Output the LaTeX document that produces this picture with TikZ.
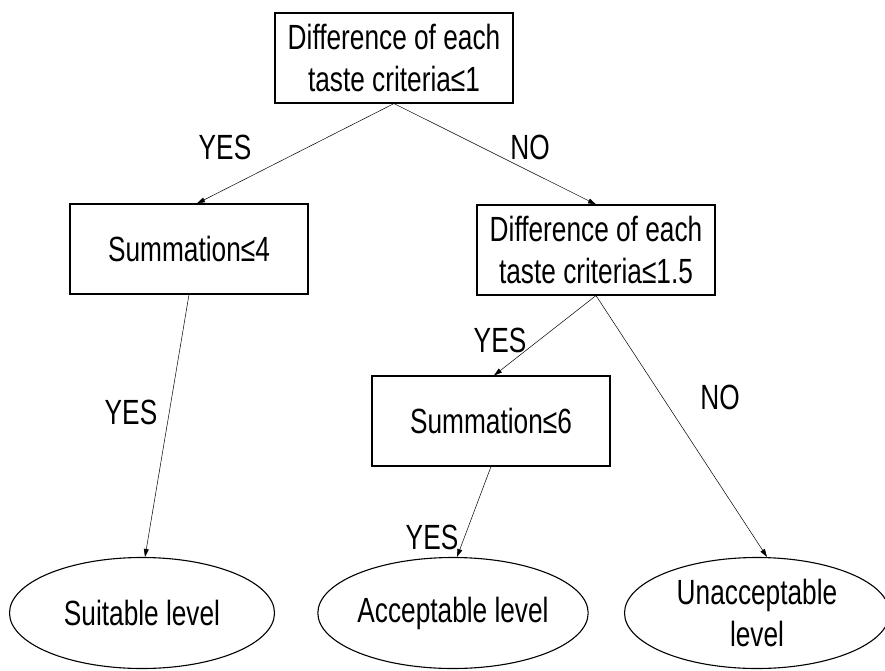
\documentclass[tikz,border=0pt]{standalone}
\usepackage{fontspec}
\setmainfont{Liberation Sans}[FakeStretch=0.75]
\usetikzlibrary{shapes.geometric,arrows.meta}

\tikzset{
  critbox/.style={draw, line width=1.1pt, minimum width=238pt, minimum height=90pt, align=center, inner sep=0pt},
  levelnode/.style={draw, ellipse, line width=1.1pt, minimum width=265pt, minimum height=111pt, align=center, inner sep=0pt},
  branch/.style={-{Triangle[length=8pt,width=5pt]}, line width=0.5pt},
  answer/.style={inner sep=0pt}
}

\begin{document}
\begin{tikzpicture}[x=1pt,y=-1pt]
\fontsize{35}{42}\selectfont

\useasboundingbox (0,0) rectangle (885,671);

% Les cases de critère
\node[critbox] (diff1) at (394,58) {Difference of each\\taste criteria≤1};
\node[critbox] (sum4) at (189,249) {Summation≤4};
\node[critbox] (diff15) at (596,250) {Difference of each\\taste criteria≤1.5};
\node[critbox] (sum6) at (491,421) {Summation≤6};

% Les niveaux
\node[levelnode] (suit) at (142,613) {Suitable level};
\node[levelnode] (accept) at (453,613) {Acceptable level};
\node[levelnode] (unaccept) at (757,613) {Unacceptable\\level};

% Les flèches
\draw[branch] (diff1.south) -- ([xshift=8pt]sum4.north);
\draw[branch] (diff1.south) -- (diff15.north);
\draw[branch] (diff15.south) -- ([xshift=3pt]sum6.north);
\draw[branch] (diff15.south) -- ([xshift=10pt]unaccept.north);
\draw[branch] (sum4.south) -- ([xshift=3pt]suit.north);
\draw[branch] (sum6.south) -- ([xshift=4pt]accept.north);

% Les réponses
\node[answer] (yes1) at (225,147) {YES};
\node[answer] (no1) at (530,147) {NO};
\node[answer] (yes2) at (500,340) {YES};
\node[answer] (no2) at (720,397) {NO};
\node[answer] (yes3) at (131,412) {YES};
\node[answer] (yes4) at (432,537) {YES};

\end{tikzpicture}
\end{document}
